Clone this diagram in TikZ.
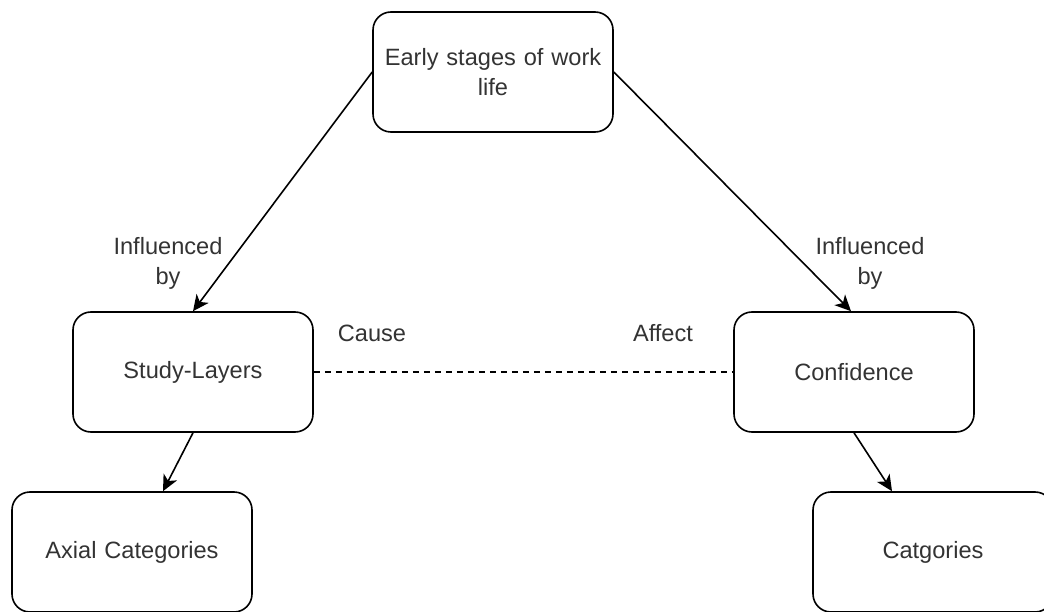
\documentclass[tikz,border=0pt]{standalone}
\usepackage{fontspec}
\setmainfont{Liberation Sans}
\usetikzlibrary{arrows.meta}
\definecolor{txt}{HTML}{333333}
\begin{document}
\begin{tikzpicture}[x=1pt,y=-1pt,
  box/.style={draw=black, line width=1.6pt, rounded corners=18pt,
    minimum width=240pt, minimum height=120pt, inner sep=4pt,
    align=center, text width=220pt, text=txt,
    font=\fontsize{23.6}{30}\selectfont},
  lbl/.style={align=center, text=txt, inner sep=0pt,
    font=\fontsize{23.6}{30}\selectfont},
  link/.style={line width=1.6pt, -{Stealth[length=16pt, width=15pt, inset=4.5pt]}},
  dashlink/.style={line width=1.4pt, dash pattern=on 6pt off 5pt}]
\useasboundingbox (0,0) rectangle (1044,612);
\clip (0,0) rectangle (1044,612);

% boxes
\node[box] (early) at (493,72) {Early stages of work\\life};
\node[box] (study) at (193,372) {Study-Layers};
\node[box] (conf)  at (854,372) {Confidence};
\node[box] (axial) at (132,552) {Axial Categories};
\node[box] (catg)  at (933,552) {Catgories};

% connectors
\draw[link] (early.west) -- (study.north);
\draw[link] (early.east) -- ([xshift=-3pt]conf.north);
\draw[dashlink] (study.east) -- (conf.west);
\draw[link] (study.south) -- ([xshift=31pt]axial.north);
\draw[link] (conf.south) -- ([xshift=-41pt]catg.north);

% labels
\node[lbl] (infl) at (168,263) {Influenced\\by};
\node[lbl] (infr) at (870,263) {Influenced\\by};
\node[lbl] (cause) at (372,333) {Cause};
\node[lbl] (affect) at (663,333) {Affect};
\end{tikzpicture}
\end{document}
